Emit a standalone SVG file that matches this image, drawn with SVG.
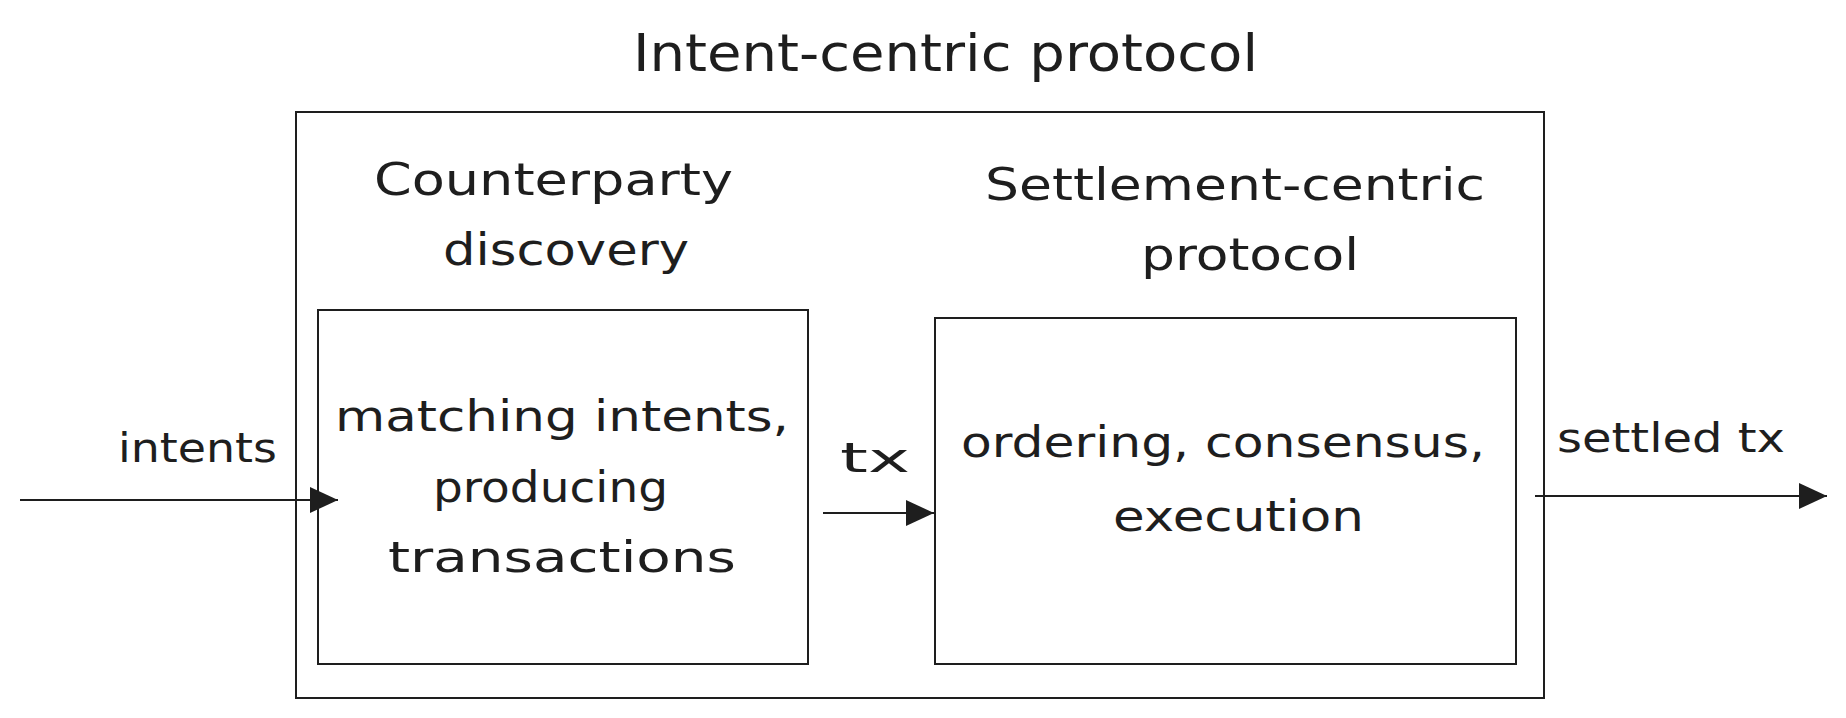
<svg xmlns="http://www.w3.org/2000/svg" width="1846" height="718" viewBox="0 0 1846 718">
  <style>
    .box { fill: #ffffff; stroke: #1e1e1e; stroke-width: 2; }
    .lbl { font-family: "DejaVu Sans", "Liberation Sans", sans-serif; fill: #1e1e1e; }
    .title { font-size: 52px; }
    .head { font-size: 45px; }
    .body { font-size: 43px; }
    .edge { font-size: 40px; }
    .conn { stroke: #1e1e1e; stroke-width: 2; fill: none; marker-end: url(#arrow); }
  </style>
  <defs>
    <marker id="arrow" markerUnits="userSpaceOnUse" markerWidth="28" markerHeight="28" viewBox="0 0 28 28" refX="28" refY="14" orient="auto">
      <path d="M0,1 L28,14 L0,27 Z" fill="#1e1e1e"/>
    </marker>
  </defs>
  <rect width="1846" height="718" fill="#ffffff"/>

  <g id="intent-centric-protocol">
    <rect class="box" x="296" y="112" width="1248" height="586"/>
    <text class="lbl title" x="633" y="71" textLength="625" lengthAdjust="spacingAndGlyphs">Intent-centric protocol</text>
  </g>

  <g id="counterparty-discovery">
    <text class="lbl head" x="374" y="195" textLength="359" lengthAdjust="spacingAndGlyphs">Counterparty</text>
    <text class="lbl head" x="443" y="265" textLength="246" lengthAdjust="spacingAndGlyphs">discovery</text>
    <rect class="box" x="318" y="310" width="490" height="354"/>
    <text class="lbl body" x="335" y="431" textLength="454" lengthAdjust="spacingAndGlyphs">matching intents,</text>
    <text class="lbl body" x="433" y="502" textLength="235" lengthAdjust="spacingAndGlyphs">producing</text>
    <text class="lbl body" x="388" y="572" textLength="348" lengthAdjust="spacingAndGlyphs">transactions</text>
  </g>

  <g id="settlement-centric-protocol">
    <text class="lbl head" x="985" y="200" textLength="500" lengthAdjust="spacingAndGlyphs">Settlement-centric</text>
    <text class="lbl head" x="1141" y="270" textLength="218" lengthAdjust="spacingAndGlyphs">protocol</text>
    <rect class="box" x="935" y="318" width="581" height="346"/>
    <text class="lbl body" x="961" y="457" textLength="524" lengthAdjust="spacingAndGlyphs">ordering, consensus,</text>
    <text class="lbl body" x="1113" y="531" textLength="251" lengthAdjust="spacingAndGlyphs">execution</text>
  </g>

  <g id="connectors">
    <line class="conn" x1="20" y1="500" x2="338" y2="500"/>
    <text class="lbl edge" x="118" y="462" textLength="159" lengthAdjust="spacingAndGlyphs">intents</text>
    <line class="conn" x1="823" y1="513" x2="934" y2="513"/>
    <text class="lbl edge" x="840" y="472" textLength="70" lengthAdjust="spacingAndGlyphs">tx</text>
    <line class="conn" x1="1535" y1="496" x2="1827" y2="496"/>
    <text class="lbl edge" x="1557" y="452" textLength="228" lengthAdjust="spacingAndGlyphs">settled tx</text>
  </g>
</svg>
